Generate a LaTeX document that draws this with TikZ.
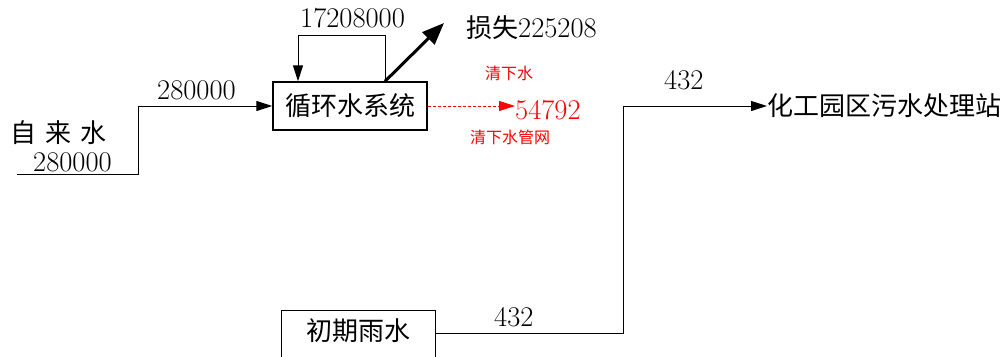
\documentclass[tikz,border=0pt]{standalone}
\usepackage{fontspec}
\newfontfamily\cjk{Noto Sans CJK SC}
\usetikzlibrary{arrows.meta}
\begin{document}
\begin{tikzpicture}[x=1pt,y=-1pt,
  big/.style={font=\fontsize{26}{26}\selectfont, inner sep=0pt},
  num/.style={font=\fontsize{28.5}{28.5}\selectfont, inner sep=0pt},
  small/.style={font=\fontsize{16}{16}\selectfont, inner sep=0pt, text=red},
  boxnode/.style={draw, line width=1.4pt, minimum width=154pt, minimum height=48pt, inner sep=0pt, font=\fontsize{26}{26}\selectfont},
  arr/.style={line width=1pt, -{Triangle[length=16pt,width=10pt]}},
  thickarr/.style={line width=3pt, -{Triangle[length=22pt,width=17pt]}},
  redarr/.style={red, line width=1pt, dash pattern=on 3pt off 2pt, -{Triangle[length=16pt,width=10pt]}}
]
\useasboundingbox (0,0) rectangle (1008,356);
\clip (0,0) rectangle (1008,356);

% labels
\node[big, anchor=west] (tap) at (10,133) {\cjk 自\hspace{9pt}来\hspace{9pt}水};
\node[num, anchor=west] (tapval) at (33,162) {280000};
\node[num, anchor=west] (inval) at (157,90) {280000};
\node[boxnode] (sys) at (350,106) {\cjk 循环水系统};
\node[num, anchor=west] (loopval) at (300,18) {17208000};
\node[num, anchor=west] (loss) at (466,28) {{\fontsize{26}{26}\selectfont\cjk 损失}225208};
\coordinate (lossend) at (444,23);
\node[small, anchor=west] (cwtop) at (485,73) {\cjk 清下水};
\node[num, anchor=west, text=red] (cw) at (515,110) {54792};
\node[small, anchor=west] (cwnet) at (470,137) {\cjk 清下水管网};
\node[big, anchor=west] (plant) at (767,106) {\cjk 化工园区污水处理站};
\node[num, anchor=west] (plantval) at (664,80) {432};
\node[num, anchor=west] (rainval) at (494,317) {432};
\node[draw, line width=1pt, anchor=north, minimum width=154pt, minimum height=60pt, inner sep=0pt] (rain) at (358,310) {};
\node[big] (raint) at (358,331) {\cjk 初期雨水};
\coordinate (win) at (17,174);

% connectors
\draw[arr] (win) -- ++(121,0) |- (sys.west);
\draw[arr] ([xshift=35pt]sys.north) -- ++(0,-46) -| ([xshift=-52pt]sys.north);
\draw[thickarr] ([xshift=35pt]sys.north) -- (lossend);
\draw[redarr] (sys.east) -- (cw.west |- sys.east);
\draw[arr] (rain.east |- 0,333) -| (623,106) -- (plant.west);
\end{tikzpicture}
\end{document}
